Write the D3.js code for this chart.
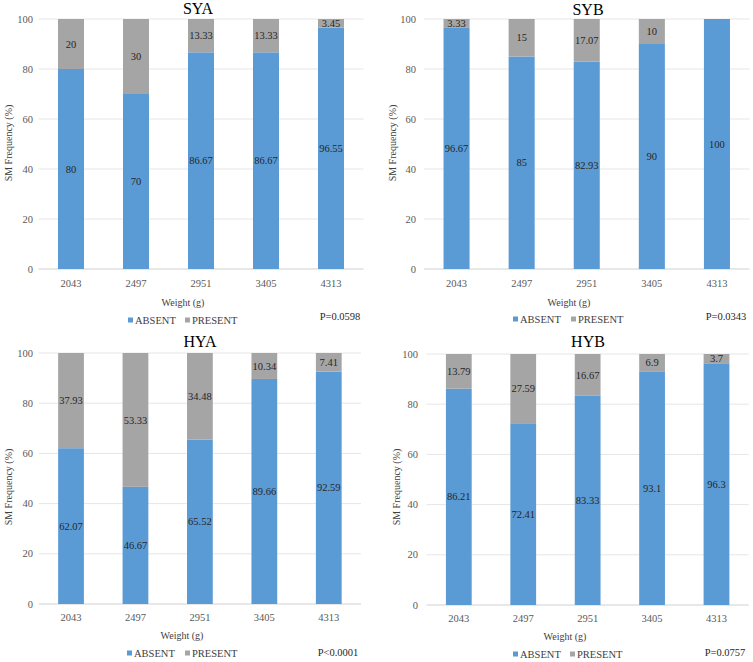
<!DOCTYPE html>
<html>
<head>
<meta charset="utf-8">
<script src="https://cdn.jsdelivr.net/npm/d3@7"></script>
<style>
  body { margin: 0; background: #fff; }
  svg { display: block; font-family: "Liberation Serif", "Times New Roman", serif; }
</style>
</head>
<body>
<svg id="chart" width="753" height="662"></svg>
<script>
// ---- data ----
const categories = ["2043", "2497", "2951", "3405", "4313"];
const seriesNames = ["ABSENT", "PRESENT"];
const yTicks = [0, 20, 40, 60, 80, 100];
const panelTitles = ["SYA", "SYB", "HYA", "HYB"];
const pValues = ["P=0.0598", "P=0.0343", "P<0.0001", "P=0.0757"];
const syaAbsent = [80, 70, 86.67, 86.67, 96.55];
const syaPresent = [20, 30, 13.33, 13.33, 3.45];
const sybAbsent = [96.67, 85, 82.93, 90, 100];
const sybPresent = [3.33, 15, 17.07, 10, 0];
const hyaAbsent = [62.07, 46.67, 65.52, 89.66, 92.59];
const hyaPresent = [37.93, 53.33, 34.48, 10.34, 7.41];
const hybAbsent = [86.21, 72.41, 83.33, 93.1, 96.3];
const hybPresent = [13.79, 27.59, 16.67, 6.9, 3.7];

const absentSets = [syaAbsent, sybAbsent, hyaAbsent, hybAbsent];
const presentSets = [syaPresent, sybPresent, hyaPresent, hybPresent];

// ---- layout ----
const colors = { ABSENT: "#5B9BD5", PRESENT: "#A5A5A5" };
const layouts = [
  { l: 38.5, r: 363.5, t: 19, b: 269, titleX: 198, titleY: 14, yLabX: 8, yLabY: 143, tickR: 33, xTickY: 287, wX: 183, wY: 306, legY: 320, legX: 128, legX2: 185, pX: 340, pY: 320 },
  { l: 424, r: 749.5, t: 19, b: 269, titleX: 588, titleY: 15, yLabX: 392, yLabY: 143, tickR: 416, xTickY: 287, wX: 569, wY: 306, legY: 319, legX: 513, legX2: 571, pX: 726, pY: 320 },
  { l: 38.8, r: 361, t: 353, b: 604, titleX: 200, titleY: 347, yLabX: 8, yLabY: 487, tickR: 33, xTickY: 621, wX: 182, wY: 639, legY: 653, legX: 127, legX2: 185, pX: 338, pY: 656 },
  { l: 426.6, r: 748.7, t: 354, b: 605, titleX: 588, titleY: 347, yLabX: 396, yLabY: 487, tickR: 418, xTickY: 622, wX: 565, wY: 640, legY: 654, legX: 513, legX2: 570, pX: 725, pY: 656 }
];

const svg = d3.select("#chart");

layouts.forEach((L, i) => {
  const g = svg.append("g");
  const x = d3.scaleBand().domain(categories).range([L.l, L.r]).paddingInner(0.6).paddingOuter(0.3);
  const y = d3.scaleLinear().domain([0, 100]).range([L.b, L.t]);

  // gridlines
  g.append("g").selectAll("line").data(yTicks).join("line")
    .attr("x1", L.l).attr("x2", L.r)
    .attr("y1", d => y(d)).attr("y2", d => y(d))
    .attr("stroke", d => d === 0 ? "#D0D0D0" : "#E6E6E6").attr("stroke-width", 1);

  // y tick labels
  g.append("g").selectAll("text").data(yTicks).join("text")
    .attr("x", L.tickR).attr("y", d => y(d)).attr("dy", "0.35em")
    .attr("text-anchor", "end").attr("font-size", 10.5).attr("fill", "#595959")
    .text(d => d);

  // x tick labels
  g.append("g").selectAll("text").data(categories).join("text")
    .attr("x", d => x(d) + x.bandwidth() / 2).attr("y", L.xTickY)
    .attr("text-anchor", "middle").attr("font-size", 10.5).attr("fill", "#595959")
    .text(d => d);

  // stacked bars
  const rows = categories.map((c, k) => ({ cat: c, ABSENT: absentSets[i][k], PRESENT: presentSets[i][k] }));
  const stacked = d3.stack().keys(seriesNames)(rows);
  stacked.forEach(s => {
    g.append("g").selectAll("rect").data(s).join("rect")
      .attr("x", d => x(d.data.cat)).attr("width", x.bandwidth())
      .attr("y", d => y(d[1])).attr("height", d => y(d[0]) - y(d[1]))
      .attr("fill", colors[s.key]);
    g.append("g").selectAll("text").data(s.filter(d => d[1] - d[0] > 0)).join("text")
      .attr("x", d => x(d.data.cat) + x.bandwidth() / 2)
      .attr("y", d => y((d[0] + d[1]) / 2)).attr("dy", "0.35em")
      .attr("text-anchor", "middle").attr("font-size", 10.5).attr("fill", "#262626")
      .text(d => d.data[s.key]);
  });

  // title
  g.append("text").attr("x", L.titleX).attr("y", L.titleY)
    .attr("text-anchor", "middle").attr("font-size", 16).attr("fill", "#000")
    .text(panelTitles[i]);

  // y axis label
  g.append("text").attr("transform", `translate(${L.yLabX},${L.yLabY}) rotate(-90)`)
    .attr("text-anchor", "middle").attr("dy", "0.35em").attr("font-size", 10).attr("fill", "#404040")
    .text("SM Frequency (%)");

  // x axis label
  g.append("text").attr("x", L.wX).attr("y", L.wY)
    .attr("text-anchor", "middle").attr("font-size", 10).attr("fill", "#404040")
    .text("Weight (g)");

  // legend
  const legXs = [L.legX, L.legX2];
  seriesNames.forEach((n, k) => {
    g.append("rect").attr("x", legXs[k]).attr("y", L.legY - 2.5).attr("width", 5).attr("height", 5).attr("fill", colors[n]);
    g.append("text").attr("x", legXs[k] + 7).attr("y", L.legY).attr("dy", "0.35em")
      .attr("font-size", 10.5).attr("fill", "#404040").text(n);
  });

  // p-value
  g.append("text").attr("x", L.pX).attr("y", L.pY)
    .attr("text-anchor", "middle").attr("font-size", 10.5).attr("fill", "#262626")
    .text(pValues[i]);
});
</script>
</body>
</html>
